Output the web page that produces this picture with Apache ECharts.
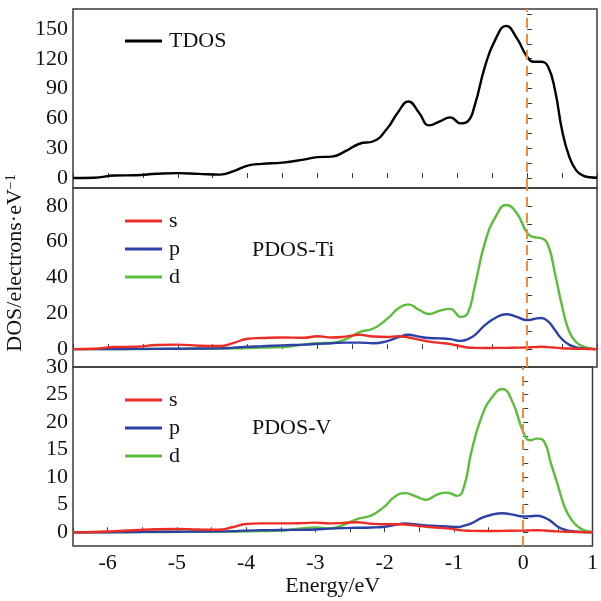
<!DOCTYPE html>
<html>
<head>
<meta charset="utf-8">
<script src="https://cdn.jsdelivr.net/npm/echarts@6/dist/echarts.min.js"></script>
<style>html,body{margin:0;padding:0;background:#fff;}#c{width:601px;height:601px;}</style>
</head>
<body>
<div id="c"></div>
<script>
// Energy grid (eV)
var energy = [-6.5,-6.2,-5.9,-5.6,-5.3,-5.0,-4.7,-4.4,-4.2,-4.0,-3.8,-3.5,-3.2,-3.0,-2.8,-2.6,-2.4,-2.2,-2.0,-1.85,-1.7,-1.55,-1.4,-1.25,-1.1,-0.95,-0.85,-0.75,-0.6,-0.45,-0.3,-0.15,0,0.1,0.2,0.3,0.4,0.5,0.6,0.7,0.8,0.9,1.0];

var tdos = [0,0.3,2.5,2.8,4.3,5,4.2,3.5,7,12.5,14.3,15.5,18.5,21,21.5,27,34.5,37,50,66,77,66,53,57,61,55,57,73,113,140,153,141,122,117,117,112,88,48,22,8,2.5,0.8,0.3];

var tiS = [0,0.2,1.2,1.3,2.3,2.5,1.9,1.7,3.5,5.8,6.2,6.5,6.3,7.2,6.5,7,8,7,6.8,7.2,6.5,5.3,4.2,3.5,2.8,1.6,0.9,0.7,0.6,0.7,0.7,0.8,0.9,1.1,1.3,1.1,0.8,0.5,0.3,0.2,0.1,0.05,0];
var tiP = [0,0,0.05,0.1,0.15,0.2,0.3,0.4,0.8,1.3,1.6,2.1,2.5,2.9,3.3,3.6,3.6,3.3,4.5,6.5,8.0,7.0,6.2,6.0,5.6,4.6,5.5,7.8,13.5,17.5,19.5,18,16.2,16.8,17.4,15.5,10.5,5.5,2.5,1.0,0.4,0.1,0];
var tiD = [0,0,0,0.05,0.1,0.15,0.2,0.3,0.4,0.6,0.8,1.2,2.5,3.3,3.5,5.5,9.5,11.5,17,22.5,25,22,19.6,21.5,22.5,18,20,35,60,74,80.5,76,65,62.5,62,58,42,24,10,4,1.5,0.4,0];

var vS = [0,0.05,0.2,0.35,0.55,0.6,0.5,0.45,0.9,1.5,1.6,1.6,1.65,1.75,1.6,1.7,1.8,1.55,1.45,1.45,1.4,1.2,1.0,0.85,0.7,0.45,0.3,0.25,0.22,0.22,0.25,0.28,0.3,0.33,0.36,0.32,0.22,0.15,0.1,0.06,0.03,0.01,0];
var vP = [0,0,0.02,0.05,0.08,0.1,0.12,0.15,0.2,0.3,0.35,0.4,0.45,0.5,0.65,0.75,0.8,0.85,1.0,1.35,1.6,1.4,1.25,1.15,1.05,0.95,1.2,1.6,2.6,3.2,3.45,3.2,2.85,2.9,3.0,2.7,2.0,1.0,0.45,0.2,0.08,0.02,0];
var vD = [0,0,0,0.02,0.04,0.06,0.08,0.1,0.12,0.15,0.2,0.3,0.7,0.85,0.7,1.3,2.4,3.0,4.7,6.5,7.1,6.5,5.9,6.8,7.2,6.6,8.5,14.5,21,24.5,26,23.5,18.2,16.7,17,16.5,12.5,8.5,4.5,2.2,0.9,0.3,0.05];

// Axis ticks / labels
var xTicks = [-6.5,-6,-5.5,-5,-4.5,-4,-3.5,-3,-2.5,-2,-1.5,-1,-0.5,0,0.5,1];
var xLabels = [-6,-5,-4,-3,-2,-1,0,1];
var y1Labels = [0,30,60,90,120,150];
var y1Ticks = [0,15,30,45,60,75,90,105,120,135,150,165];
var y2Labels = [0,20,40,60,80];
var y2Ticks = [0,10,20,30,40,50,60,70,80];
var y3Labels = [0,5,10,15,20,25,30];
var y3Ticks = [0,2.5,5,7.5,10,12.5,15,17.5,20,22.5,25,27.5];

function pairs(ys){ return energy.map(function(e,i){ return [e, ys[i]]; }); }

var FONT = '"Liberation Serif","Times New Roman",serif';
var RED = '#ec2d26', BLUE = '#2c41a6', GREEN = '#5cbd3c', ORANGE = '#f08c3c';

var gridTops = [9, 188, 367];
var grids = gridTops.map(function(t){
  return {left:73, width:524, top:t, height:179, show:true, borderColor:'#3a3a3a', borderWidth:1.5, backgroundColor:'transparent'};
});

var xAxes = [0,1,2].map(function(i){
  return {type:'value', gridIndex:i, min:-6.5, max:1,
    axisLine:{show:false}, splitLine:{show:false},
    axisTick:{show:true, inside:true, length:5, customValues:xTicks, lineStyle:{color:'#3a3a3a', width:1}},
    axisLabel:{show:i===2, customValues:xLabels, margin:6, color:'#111', fontFamily:FONT, fontSize:22},
    name: i===2 ? 'Energy/eV' : '', nameLocation:'middle', nameGap:26,
    nameTextStyle:{color:'#111', fontFamily:FONT, fontSize:22}
  };
});

function yAxis(i, mn, mx, labels, ticks){
  return {type:'value', gridIndex:i, min:mn, max:mx,
    axisLine:{show:false}, splitLine:{show:false},
    axisTick:{show:true, inside:true, length:5, customValues:ticks, lineStyle:{color:'#3a3a3a', width:1}},
    axisLabel:{customValues:labels, margin:5, color:'#111', fontFamily:FONT, fontSize:22}
  };
}
var yAxes = [yAxis(0,-10,170,y1Labels,y1Ticks), yAxis(1,-10,90,y2Labels,y2Ticks), yAxis(2,-2.5,30,y3Labels,y3Ticks)];

var fermi = {silent:true, symbol:'none', animation:false, label:{show:false},
  lineStyle:{color:ORANGE, type:[10,6], width:2}, data:[{xAxis:0}]};

function line(name, data, color, gi, mark){
  var s = {name:name, type:'line', xAxisIndex:gi, yAxisIndex:gi, data:pairs(data),
    symbol:'none', showSymbol:false, smooth:0.5, color:color,
    lineStyle:{color:color, width:2.4}, z: name==='s'?4:(name==='p'?3:2)};
  if (mark) s.markLine = fermi;
  return s;
}

var series = [
  line('TDOS', tdos, '#000', 0, true),
  line('d', tiD, GREEN, 1, true),
  line('p', tiP, BLUE, 1, false),
  line('s', tiS, RED, 1, false),
  line('d', vD, GREEN, 2, true),
  line('p', vP, BLUE, 2, false),
  line('s', vS, RED, 2, false)
];

function legend(top, names){
  return {orient:'vertical', left:125, top:top, padding:0, itemGap:6, itemWidth:37, itemHeight:3,
    icon:'rect', data:names, selectedMode:false,
    textStyle:{fontFamily:FONT, fontSize:22, lineHeight:22, color:'#111', padding:[0,0,0,2]}};
}

var chart = echarts.init(document.getElementById('c'), null, {renderer:'canvas'});
chart.setOption({
  animation:false,
  backgroundColor:'#fff',
  grid:grids, xAxis:xAxes, yAxis:yAxes, series:series,
  legend:[legend(30,['TDOS']), legend(210,['s','p','d']), legend(389,['s','p','d'])],
  graphic:[
    {type:'text', left:252, top:239, style:{text:'PDOS-Ti', fontFamily:FONT, fontSize:22, fill:'#111'}},
    {type:'text', left:252, top:417, style:{text:'PDOS-V', fontFamily:FONT, fontSize:22, fill:'#111'}},
    {type:'text', x:15, y:263, rotation:Math.PI/2,
      style:{text:'{a|DOS/electrons·eV}{b|\u22121}', align:'center', verticalAlign:'middle',
        rich:{a:{fontFamily:FONT, fontSize:22, lineHeight:22, fill:'#111', verticalAlign:'bottom'},
              b:{fontFamily:FONT, fontSize:14, lineHeight:22, fill:'#111', verticalAlign:'top'}}}}
  ]
});
</script>
</body>
</html>
